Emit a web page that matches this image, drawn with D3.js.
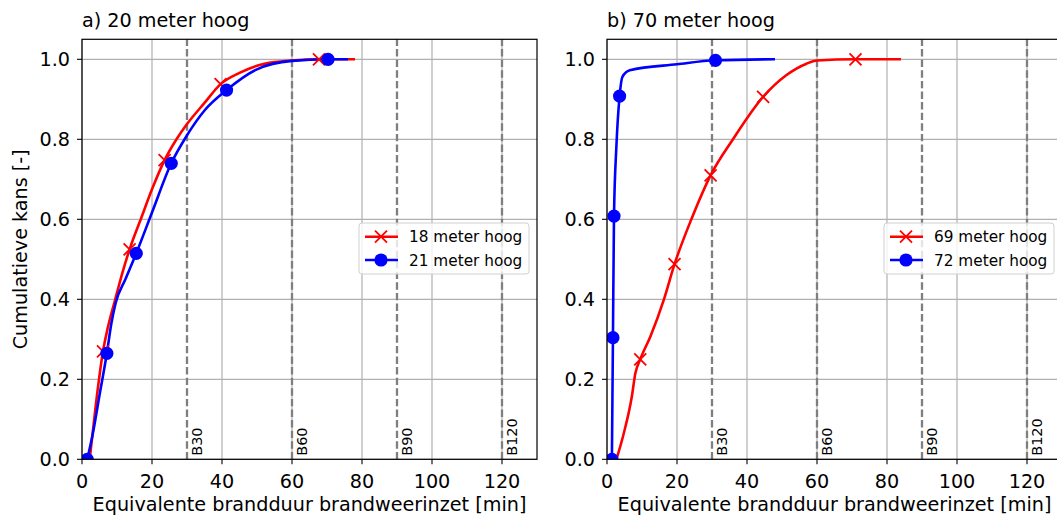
<!DOCTYPE html>
<html>
<head>
<meta charset="utf-8">
<script src="https://cdn.jsdelivr.net/npm/d3@7"></script>
<style>
  body { margin: 0; background: #fff; }
  svg { font-family: "DejaVu Sans", sans-serif; }
</style>
</head>
<body>
<svg id="chart" width="1057" height="520"></svg>
<script>
// Panel a) 20 meter hoog
const redA_x = [2.2, 4, 6, 7.4, 9.5, 11.5, 13.6, 17, 20, 23.6, 27, 30, 35, 39.6, 45, 50, 55, 60, 67.7, 78];
const redA_y = [0, 0.14, 0.27, 0.33, 0.40, 0.465, 0.525, 0.605, 0.675, 0.748, 0.80, 0.838, 0.891, 0.938, 0.966, 0.984, 0.993, 0.997, 1.0, 1.0];
const redA_mx = [6.0, 13.6, 23.6, 39.6, 67.7];
const redA_my = [0.27, 0.525, 0.748, 0.938, 1.0];

const blueA_x = [1.5, 3, 5, 7.1, 8.4, 9.6, 12.5, 15.5, 20, 25.5, 30, 35, 41.3, 50, 60, 70.3, 76];
const blueA_y = [0, 0.06, 0.16, 0.265, 0.34, 0.39, 0.452, 0.515, 0.617, 0.74, 0.81, 0.872, 0.923, 0.975, 0.996, 1.0, 1.0];
const blueA_mx = [1.5, 7.1, 15.5, 25.5, 41.3, 70.3];
const blueA_my = [0, 0.265, 0.515, 0.74, 0.923, 1.0];

// Panel b) 70 meter hoog
const redB_x = [2.7, 4.8, 7.1, 8.1, 9.5, 12.4, 16.2, 19.3, 24.1, 29.6, 36, 44.6, 51.2, 57, 60, 71, 84];
const redB_y = [0, 0.065, 0.157, 0.215, 0.25, 0.307, 0.398, 0.488, 0.6, 0.71, 0.80, 0.906, 0.96, 0.989, 0.997, 1.0, 1.0];
const redB_mx = [9.5, 19.3, 29.6, 44.6, 71];
const redB_my = [0.25, 0.488, 0.71, 0.906, 1.0];

const blueB_x = [1.4, 1.7, 2.0, 2.7, 3.6, 4.4, 6.5, 20, 31, 48];
const blueB_y = [0, 0.304, 0.608, 0.785, 0.908, 0.956, 0.9725, 0.9875, 0.9975, 1.0];
const blueB_mx = [1.4, 1.7, 2.0, 3.6, 31];
const blueB_my = [0, 0.304, 0.608, 0.908, 0.9975];

const xTicks = [0, 20, 40, 60, 80, 100, 120];
const yTicks = [0, 0.2, 0.4, 0.6, 0.8, 1.0];
const bLines = [30, 60, 90, 120];
const bLabels = ["B30", "B60", "B90", "B120"];

const svg = d3.select("#chart");
const FS = 19.2;

function zip(xs, ys) { return xs.map((x, i) => [x, ys[i]]); }

function xPath(cx, cy, r) {
    return `M${cx - r},${cy - r}L${cx + r},${cy + r}M${cx - r},${cy + r}L${cx + r},${cy - r}`;
}

function drawPanel(opt) {
    const x = d3.scaleLinear().domain([0, 130]).range(opt.xr);
    const y = d3.scaleLinear().domain([0, 1.05]).range([459.3, 39.3]);
    const g = svg.append("g");
    const id = "clip" + opt.key;

    g.append("clipPath").attr("id", id)
        .append("rect")
        .attr("x", x(0)).attr("y", y(1.05))
        .attr("width", x(130) - x(0)).attr("height", y(0) - y(1.05));

    // grid
    g.selectAll(".gx").data(xTicks).enter().append("line")
        .attr("x1", d => x(d)).attr("x2", d => x(d))
        .attr("y1", y(0)).attr("y2", y(1.05))
        .attr("stroke", "#b0b0b0").attr("stroke-width", 1.2);
    g.selectAll(".gy").data(yTicks).enter().append("line")
        .attr("x1", x(0)).attr("x2", x(130))
        .attr("y1", d => y(d)).attr("y2", d => y(d))
        .attr("stroke", "#b0b0b0").attr("stroke-width", 1.2);

    // B-lines
    g.selectAll(".bl").data(bLines).enter().append("line")
        .attr("x1", d => x(d)).attr("x2", d => x(d))
        .attr("y1", y(0)).attr("y2", y(1.05))
        .attr("stroke", "#7f7f7f").attr("stroke-width", 2.3)
        .attr("stroke-dasharray", "7.4,3.2");
    g.selectAll(".bt").data(bLines).enter().append("text")
        .attr("transform", d => `translate(${x(d) + 14.5},${y(0) - 3.5}) rotate(-90)`)
        .attr("font-size", 14.5).attr("fill", "#000")
        .text((d, i) => bLabels[i]);

    const line = d3.line()
        .x(d => x(d[0])).y(d => y(d[1]))
        .curve(d3.curveMonotoneX);

    const body = g.append("g").attr("clip-path", `url(#${id})`);
    opt.series.forEach(s => {
        body.append("path")
            .datum(zip(s.x, s.y))
            .attr("fill", "none").attr("stroke", s.color)
            .attr("stroke-width", 2.6)
            .attr("d", line);
    });
    opt.series.forEach(s => {
        const pts = zip(s.mx, s.my);
        if (s.marker === "x") {
            body.selectAll(null).data(pts).enter().append("path")
                .attr("d", d => xPath(x(d[0]), y(d[1]), 6))
                .attr("stroke", s.color).attr("stroke-width", 1.8).attr("fill", "none");
        } else {
            body.selectAll(null).data(pts).enter().append("circle")
                .attr("cx", d => x(d[0])).attr("cy", d => y(d[1]))
                .attr("r", 6.6).attr("fill", s.color);
        }
    });

    // spines
    g.append("rect")
        .attr("x", x(0)).attr("y", y(1.05))
        .attr("width", x(130) - x(0)).attr("height", y(0) - y(1.05))
        .attr("fill", "none").attr("stroke", "#000").attr("stroke-width", 1.2);

    // ticks
    g.selectAll(".tx").data(xTicks).enter().append("line")
        .attr("x1", d => x(d)).attr("x2", d => x(d))
        .attr("y1", y(0)).attr("y2", y(0) + 5)
        .attr("stroke", "#000").attr("stroke-width", 1.1);
    g.selectAll(".txl").data(xTicks).enter().append("text")
        .attr("x", d => x(d)).attr("y", 487.5)
        .attr("text-anchor", "middle").attr("font-size", FS)
        .text(d => d);
    g.selectAll(".ty").data(yTicks).enter().append("line")
        .attr("x1", x(0) - 5).attr("x2", x(0))
        .attr("y1", d => y(d)).attr("y2", d => y(d))
        .attr("stroke", "#000").attr("stroke-width", 1.1);
    g.selectAll(".tyl").data(yTicks).enter().append("text")
        .attr("x", x(0) - 12).attr("y", d => y(d))
        .attr("dy", "0.36em")
        .attr("text-anchor", "end").attr("font-size", FS)
        .text(d => d.toFixed(1));

    // labels
    g.append("text")
        .attr("x", x(0)).attr("y", 27)
        .attr("font-size", FS).text(opt.title);
    g.append("text")
        .attr("x", (x(0) + x(130)) / 2).attr("y", 511)
        .attr("text-anchor", "middle").attr("font-size", FS)
        .text("Equivalente brandduur brandweerinzet [min]");

    // legend
    const lg = g.append("g").attr("transform", `translate(${x(130) - 8 - 170},223)`);
    lg.append("rect")
        .attr("width", 170).attr("height", 51).attr("rx", 3)
        .attr("fill", "#fff").attr("fill-opacity", 0.8)
        .attr("stroke", "#d0d0d0").attr("stroke-width", 1);
    opt.series.forEach((s, i) => {
        const cy = 13.7 + i * 23.3;
        lg.append("line")
            .attr("x1", 6).attr("x2", 39).attr("y1", cy).attr("y2", cy)
            .attr("stroke", s.color).attr("stroke-width", 2.6);
        if (s.marker === "x") {
            lg.append("path")
                .attr("d", xPath(22, cy, 6))
                .attr("stroke", s.color).attr("stroke-width", 1.8);
        } else {
            lg.append("circle").attr("cx", 22).attr("cy", cy).attr("r", 6.6).attr("fill", s.color);
        }
        lg.append("text")
            .attr("x", 50).attr("y", cy).attr("dy", "0.36em")
            .attr("font-size", 15.3).text(s.name);
    });
}

drawPanel({
    key: "a", xr: [82, 537], title: "a) 20 meter hoog",
    series: [
        { name: "18 meter hoog", color: "#ff0000", marker: "x", x: redA_x, y: redA_y, mx: redA_mx, my: redA_my },
        { name: "21 meter hoog", color: "#0000ff", marker: "o", x: blueA_x, y: blueA_y, mx: blueA_mx, my: blueA_my }
    ]
});

drawPanel({
    key: "b", xr: [607, 1062], title: "b) 70 meter hoog",
    series: [
        { name: "69 meter hoog", color: "#ff0000", marker: "x", x: redB_x, y: redB_y, mx: redB_mx, my: redB_my },
        { name: "72 meter hoog", color: "#0000ff", marker: "o", x: blueB_x, y: blueB_y, mx: blueB_mx, my: blueB_my }
    ]
});

// y axis label
svg.append("text")
    .attr("transform", "translate(27,249.3) rotate(-90)")
    .attr("text-anchor", "middle").attr("font-size", FS)
    .text("Cumulatieve kans [-]");
</script>
</body>
</html>
